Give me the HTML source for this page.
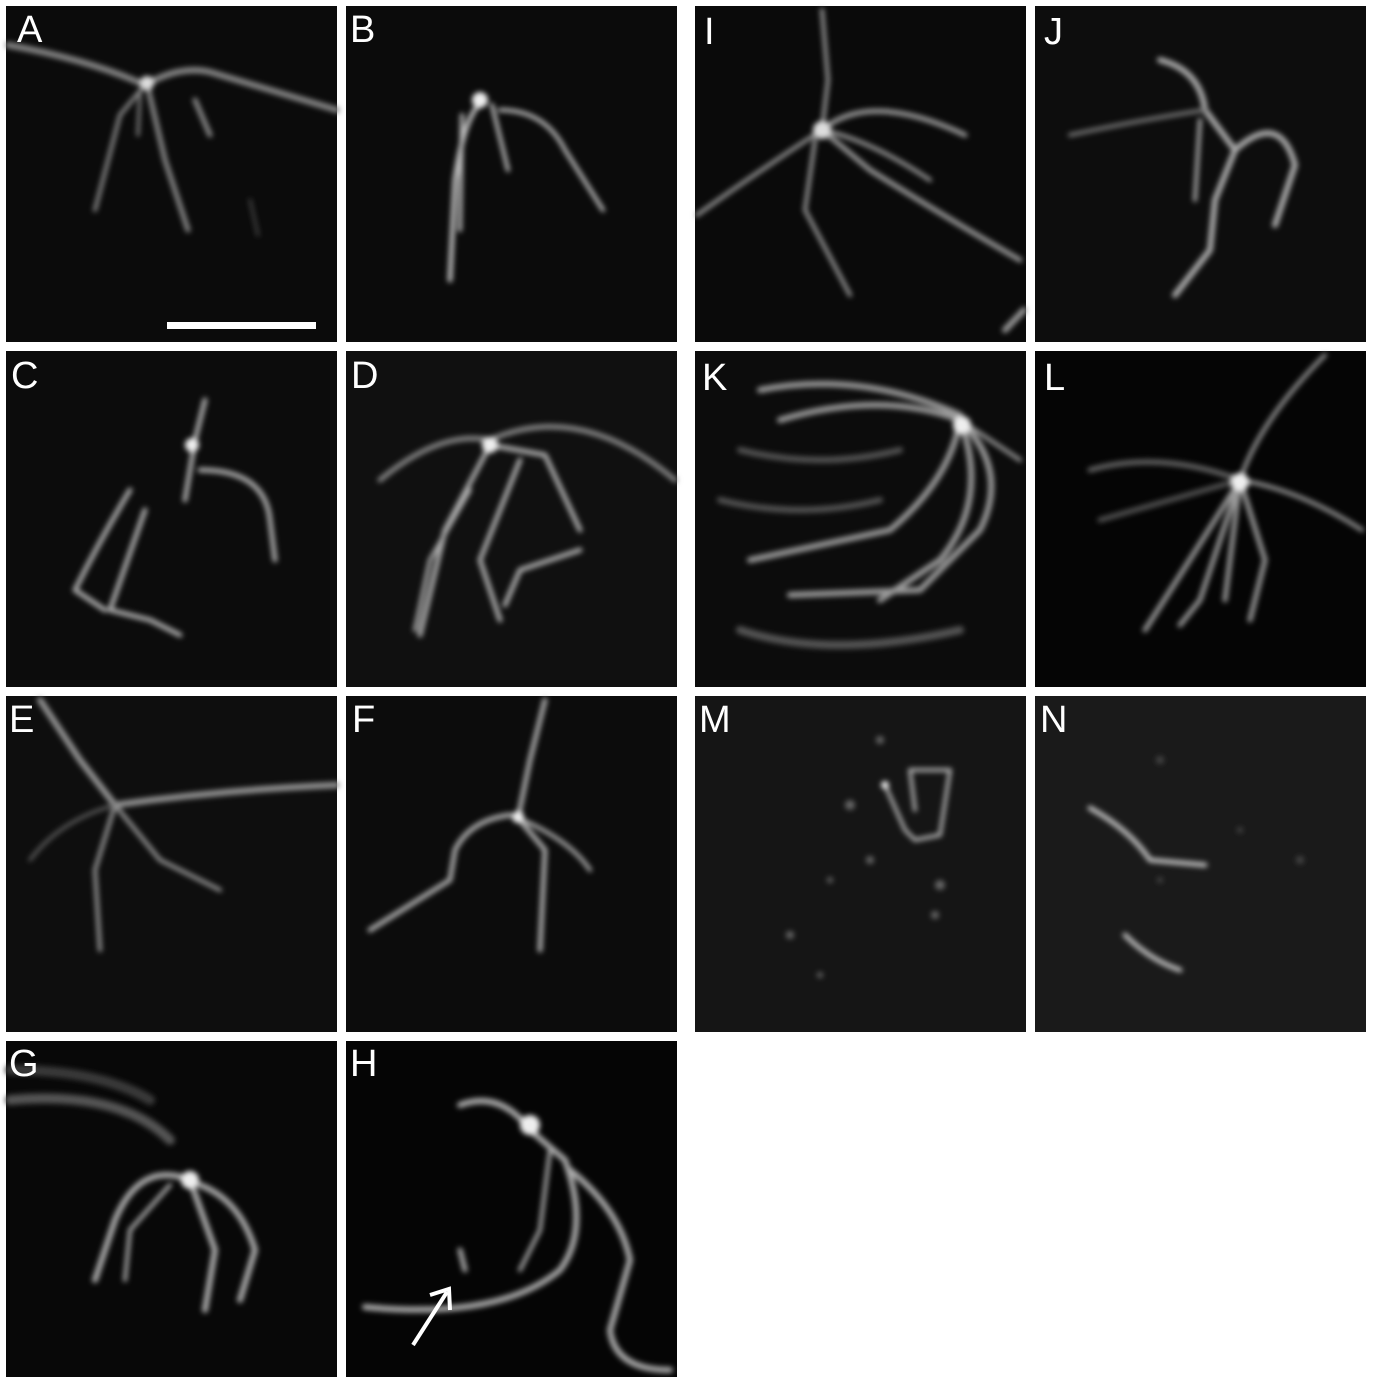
<!DOCTYPE html>
<html><head><meta charset="utf-8"><style>
html,body{margin:0;padding:0;background:#fff;}
svg{display:block;}
text{font-family:"Liberation Sans",sans-serif;fill:#fff;font-size:38px;}
</style></head><body>
<svg width="1373" height="1383" viewBox="0 0 1373 1383">
<defs>
<filter id="b2" x="-20%" y="-20%" width="140%" height="140%"><feGaussianBlur stdDeviation="2.6"/></filter>
</defs>
<rect x="6" y="6" width="331" height="336" fill="#0b0b0b"/>
<rect x="346" y="6" width="331" height="336" fill="#0b0b0b"/>
<rect x="695" y="6" width="331" height="336" fill="#0a0a0a"/>
<rect x="1035" y="6" width="331" height="336" fill="#0d0d0d"/>
<rect x="6" y="351" width="331" height="336" fill="#0c0c0c"/>
<rect x="346" y="351" width="331" height="336" fill="#101010"/>
<rect x="695" y="351" width="331" height="336" fill="#0c0c0c"/>
<rect x="1035" y="351" width="331" height="336" fill="#050505"/>
<rect x="6" y="696" width="331" height="336" fill="#0e0e0e"/>
<rect x="346" y="696" width="331" height="336" fill="#0c0c0c"/>
<rect x="695" y="696" width="331" height="336" fill="#151515"/>
<rect x="1035" y="696" width="331" height="336" fill="#1a1a1a"/>
<rect x="6" y="1041" width="331" height="336" fill="#080808"/>
<rect x="346" y="1041" width="331" height="336" fill="#050505"/>

<g fill="none" stroke-linecap="round" stroke-linejoin="round" filter="url(#b2)">
<g stroke="#8a8a8a" stroke-width="6">
<path d="M8 45 Q90 60 145 85 Q180 65 210 72 Q270 90 337 110"/>
<path d="M145 85 L120 115 L95 210" stroke-width="4"/>
<path d="M148 88 L165 160 L188 230" stroke-width="5"/>
<path d="M195 100 L210 135" stroke-width="5"/>
<path d="M140 92 L138 135" stroke-width="3"/>
<path d="M250 200 L258 235" stroke="#444" stroke-width="3"/>
</g>
<circle cx="147" cy="83" r="7" fill="#ddd" stroke="none"/>
<g stroke="#bbb" stroke-width="5">
<path d="M485 100 Q465 110 455 180 L450 280"/>
<path d="M462 115 L460 230" stroke-width="4"/>
<path d="M492 105 L508 170" stroke-width="4"/>
<path d="M500 110 Q545 110 565 150 L603 210" stroke-width="4"/>
</g>
<circle cx="480" cy="100" r="8" fill="#eee" stroke="none"/>
<g stroke="#999" stroke-width="5">
<path d="M697 215 Q760 170 822 130 L828 80 L822 10" stroke-width="4"/>
<path d="M822 130 Q870 90 965 135" />
<path d="M822 130 Q870 140 930 180" stroke-width="4"/>
<path d="M822 130 L870 170 Q950 220 1020 260"/>
<path d="M815 140 L805 210 L850 295" stroke-width="4"/>
<path d="M1005 330 L1024 310" stroke-width="6"/>
</g>
<circle cx="822" cy="130" r="9" fill="#ddd" stroke="none"/>
<g stroke="#aaa" stroke-width="6">
<path d="M1160 60 Q1200 70 1205 110 L1235 150 L1215 200 L1210 250 L1175 295"/>
<path d="M1205 110 Q1140 120 1070 135" stroke-width="4" stroke="#777"/>
<path d="M1235 150 Q1280 110 1295 165 L1275 225" />
<path d="M1200 120 L1195 200" stroke-width="4"/>
</g>
<g stroke="#aaa" stroke-width="5">
<path d="M205 400 L195 440 L185 500"/>
<path d="M200 470 Q265 470 270 520 L275 560"/>
<path d="M130 490 Q100 540 75 590 L105 610"/>
<path d="M145 510 L110 610 L150 620 L180 635"/>
</g>
<circle cx="192" cy="445" r="7" fill="#eee" stroke="none"/>
<g stroke="#aaa" stroke-width="5">
<path d="M380 480 Q440 430 490 440 Q580 400 675 480" stroke="#888"/>
<path d="M490 445 L445 530 L420 635"/>
<path d="M490 445 L545 455 L580 530"/>
<path d="M520 460 L480 560 L500 620"/>
<path d="M580 550 L520 570 L505 605" />
<path d="M470 490 L430 560 L415 630" stroke-width="4"/>
</g>
<circle cx="490" cy="445" r="8" fill="#eee" stroke="none"/>
<g stroke="#9a9a9a" stroke-width="6">
<path d="M760 390 Q860 370 960 415"/>
<path d="M780 420 Q880 390 960 420"/>
<path d="M960 420 Q1010 470 980 530 L920 590 L790 595"/>
<path d="M960 420 Q990 500 940 560 L880 600"/>
<path d="M960 420 Q950 480 890 530 L750 560"/>
<path d="M960 420 L1020 460" stroke-width="4"/>
<path d="M740 450 Q820 470 900 450" stroke="#555"/>
<path d="M720 500 Q800 520 880 500" stroke="#555"/>
<path d="M740 630 Q830 660 960 630" stroke="#555" stroke-width="8"/>
</g>
<circle cx="962" cy="425" r="9" fill="#eee" stroke="none"/>
<g stroke="#999" stroke-width="5">
<path d="M1240 480 Q1260 420 1325 355" stroke-width="4"/>
<path d="M1240 480 Q1300 490 1362 530" stroke-width="4"/>
<path d="M1240 480 Q1190 560 1145 630"/>
<path d="M1240 480 L1200 600 L1180 625"/>
<path d="M1240 480 L1225 600"/>
<path d="M1240 480 L1265 560 L1250 620"/>
<path d="M1240 480 Q1160 450 1090 470" stroke="#666"/>
<path d="M1240 480 Q1170 500 1100 520" stroke="#555"/>
</g>
<circle cx="1240" cy="482" r="9" fill="#eee" stroke="none"/>
<g stroke="#999" stroke-width="6">
<path d="M40 700 L80 760 L115 805 Q220 790 337 785"/>
<path d="M115 805 L95 870 L100 950" stroke-width="4"/>
<path d="M115 805 L160 860 L220 890" stroke-width="4"/>
<path d="M115 805 Q60 820 30 860" stroke-width="3" stroke="#666"/>
</g>
<g stroke="#aaa" stroke-width="5">
<path d="M545 700 L530 760 L518 818"/>
<path d="M510 815 Q470 820 455 850 L450 880 L370 930"/>
<path d="M518 818 L545 850 L540 950"/>
<path d="M518 818 Q570 840 590 870" stroke-width="4"/>
</g>
<circle cx="518" cy="817" r="6" fill="#eee" stroke="none"/>
<g stroke="#aaa" stroke-width="4">
<path d="M885 785 L905 830 L915 840 L940 835 L950 770 L910 770 L915 810"/>
</g>
<g fill="#666" stroke="none">
<circle cx="850" cy="805" r="5"/><circle cx="870" cy="860" r="4"/><circle cx="940" cy="885" r="5"/><circle cx="790" cy="935" r="4"/><circle cx="880" cy="740" r="4"/><circle cx="820" cy="975" r="3"/><circle cx="935" cy="915" r="4"/><circle cx="830" cy="880" r="3"/>
</g>
<circle cx="885" cy="785" r="4" fill="#eee" stroke="none"/>
<g stroke="#bbb" stroke-width="5">
<path d="M1090 808 Q1130 830 1150 860 L1205 865"/>
<path d="M1125 935 Q1150 960 1180 970"/>
</g>
<g fill="#444" stroke="none"><circle cx="1160" cy="760" r="4"/><circle cx="1300" cy="860" r="4"/><circle cx="1240" cy="830" r="3"/><circle cx="1160" cy="880" r="3"/></g>
<g stroke="#888" stroke-width="10">
<path d="M10 1100 Q120 1090 170 1140" stroke="#555"/>
<path d="M10 1070 Q100 1070 150 1100" stroke="#3a3a3a"/>
</g>
<g stroke="#aaa" stroke-width="6">
<path d="M190 1180 Q140 1160 115 1220 L95 1280"/>
<path d="M190 1180 L215 1250 L205 1310"/>
<path d="M200 1185 Q240 1200 255 1250 L240 1300"/>
<path d="M170 1185 L130 1230 L125 1280" stroke-width="4"/>
</g>
<circle cx="190" cy="1180" r="9" fill="#eee" stroke="none"/>
<g stroke="#aaa" stroke-width="6">
<path d="M460 1105 Q500 1090 530 1130 L565 1160"/>
<path d="M565 1160 Q590 1230 560 1270 Q500 1320 365 1307"/>
<path d="M570 1170 Q620 1210 630 1260 L610 1330 Q615 1370 670 1370"/>
<path d="M550 1150 L540 1230 L520 1270" stroke-width="4"/>
<path d="M460 1250 L465 1270" stroke-width="5"/>
</g>
<circle cx="530" cy="1125" r="10" fill="#eee" stroke="none"/>
</g>

<rect x="167" y="322" width="149" height="7" fill="#fff"/>
<g stroke="#fff" stroke-width="4" fill="none">
<line x1="413" y1="1345" x2="447" y2="1292"/>
<polyline points="430,1295 449,1289 450,1310"/>
</g>

<text x="17" y="42">A</text>
<text x="350" y="42">B</text>
<text x="704" y="44">I</text>
<text x="1044" y="44">J</text>
<text x="11" y="388">C</text>
<text x="351" y="388">D</text>
<text x="702" y="390">K</text>
<text x="1044" y="390">L</text>
<text x="9" y="732">E</text>
<text x="352" y="732">F</text>
<text x="699" y="732">M</text>
<text x="1040" y="732">N</text>
<text x="9" y="1076">G</text>
<text x="350" y="1076">H</text>
</svg>
</body></html>
